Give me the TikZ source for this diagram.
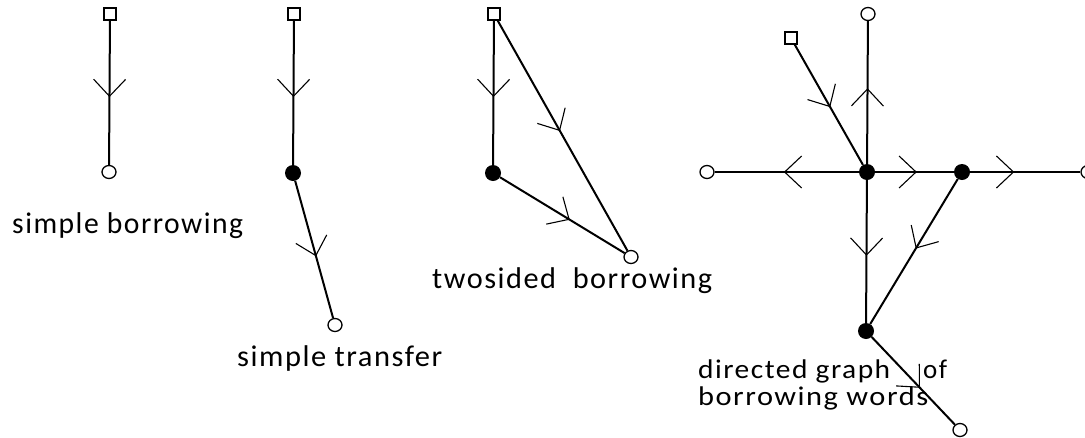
\documentclass[tikz,border=0pt]{standalone}
\usepackage{fontspec}
\setmainfont{Carlito}
\newfontfamily\spc[LetterSpace=5]{Carlito}
\usetikzlibrary{arrows.meta,decorations.markings,shapes.geometric}
\newcommand{\fitw}[2]{\resizebox{#1}{\height}{#2}}
\tikzset{
  edge/.style={line width=2pt},
  sq/.style={draw, line width=1.3pt, minimum size=12pt, inner sep=0pt, fill=white},
  oc/.style={draw, line width=1.3pt, ellipse, minimum width=14pt, minimum height=13pt, inner sep=0pt, fill=white},
  fc/.style={circle, fill=black, minimum size=16pt, inner sep=0pt},
  mid/.style={postaction={decorate,decoration={markings,
    mark=at position #1 with {\arrow[line width=1.1pt]{Straight Barb[length=17pt,width=32pt]}}}}},
  lbl/.style={anchor=base west, inner sep=0pt, font=\spc\fontsize{30}{32}\selectfont},
  lblb/.style={anchor=base west, inner sep=0pt, font=\spc\fontsize{27}{29}\selectfont},
}
\begin{document}
\begin{tikzpicture}[x=1pt,y=-1pt]
\useasboundingbox (0,0) rectangle (1085,437);
% panel 1
\node[sq] (s1) at (110,14) {};
\node[oc] (c1) at (109,172) {};
\draw[edge, mid=0.53] (s1) -- (c1);
\node[lbl] (t1) at (12,233) {\fitw{231pt}{simple borrowing}};
% panel 2
\node[sq] (s2) at (294,14) {};
\node[fc] (f2) at (293,173) {};
\node[oc] (c2) at (335,325) {};
\draw[edge, mid=0.53] (s2) -- (f2);
\draw[edge, mid=0.55] (f2) -- (c2);
\node[lbl] (t2) at (237,366) {\fitw{205pt}{simple transfer}};
% panel 3
\node[sq] (s3) at (494,14) {};
\node[fc] (f3) at (493,173) {};
\node[oc] (c3) at (631,257) {};
\draw[edge, mid=0.53] (s3) -- (f3);
\draw[edge, mid=0.48] (s3) -- (c3);
\draw[edge, mid=0.56] (f3) -- (c3);
\node[lbl] (t3) at (432,288) {\fitw{280pt}{twosided\ \ borrowing}};
% panel 4
\node[oc] (t4) at (868,14) {};
\node[sq] (s4) at (791,38) {};
\node[fc] (m4) at (867,172) {};
\node[oc] (l4) at (707,172) {};
\node[fc] (r4) at (962,172) {};
\node[oc] (rr4) at (1088,172) {};
\node[fc] (b4) at (866,331) {};
\node[oc] (bb4) at (960,430) {};
\draw[edge, mid=0.53] (m4) -- (t4);
\draw[edge, mid=0.52] (s4) -- (m4);
\draw[edge, mid=0.52] (m4) -- (l4);
\draw[edge, mid=0.53] (m4) -- (r4);
\draw[edge, mid=0.40] (r4) -- (rr4);
\draw[edge, mid=0.53] (m4) -- (b4);
\draw[edge, mid=0.48] (r4) -- (b4);
\draw[edge, mid=0.58] (b4) -- (bb4);
\node[lblb] (t4a) at (698,378) {\fitw{192pt}{directed graph}};
\node[lblb] (t4b) at (923,378) {of};
\node[lblb] (t4c) at (698,405) {\fitw{230pt}{borrowing words}};
\end{tikzpicture}
\end{document}
